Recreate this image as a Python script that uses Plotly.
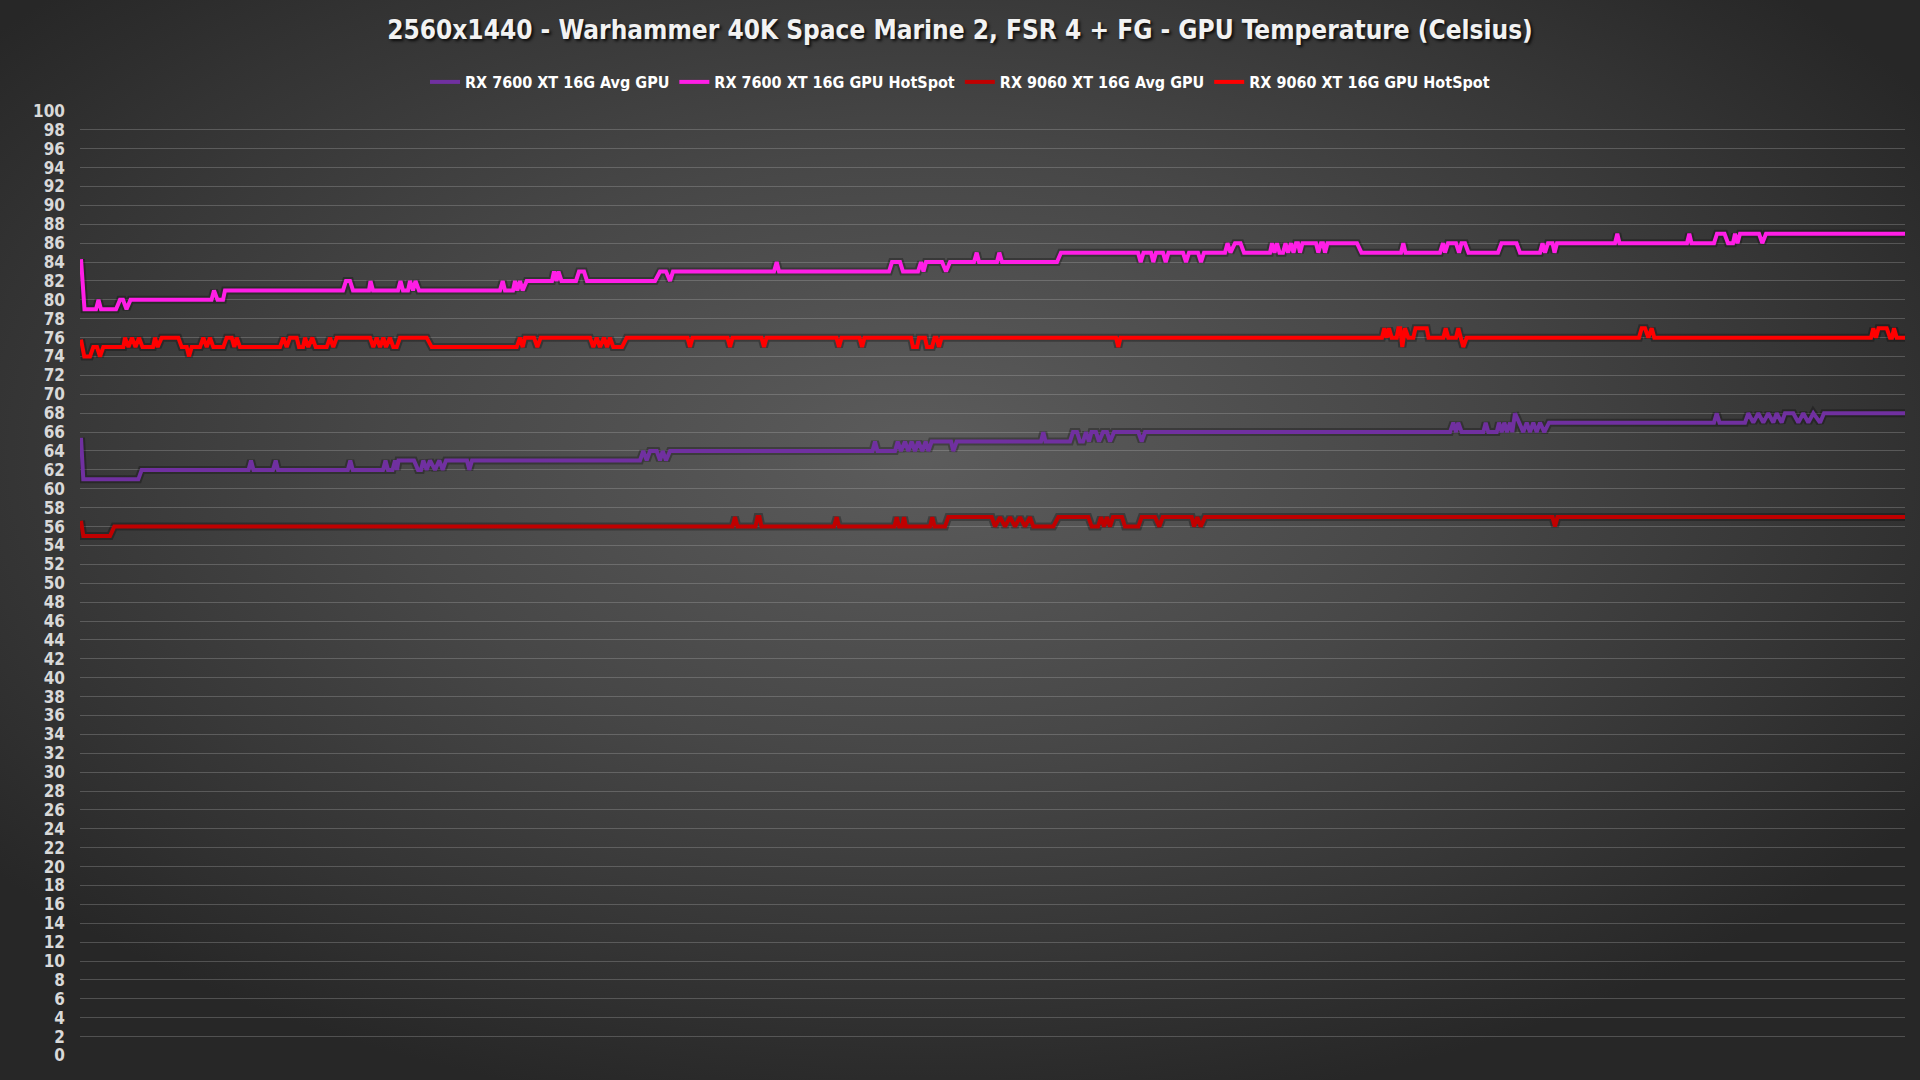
import base64
import plotly.graph_objects as go

# ---------------- data (sample index, temperature °C) ----------------
series_names = [
    "RX 7600 XT 16G Avg GPU",
    "RX 7600 XT 16G GPU HotSpot",
    "RX 9060 XT 16G Avg GPU",
    "RX 9060 XT 16G GPU HotSpot",
]
series_colors = ["#7030A0", "#FF1EE6", "#C00000", "#FF0000"]

# RX 7600 XT Avg GPU
p_t = [1, 3.3, 58.3, 61.7, 168.5, 171, 173.5, 193, 195.7, 198, 267.8, 270.3, 272.8,
       303, 305.5, 308, 312.5, 315, 317, 318.5, 334, 338, 341, 343.3, 346.7, 350, 355,
       359.3, 362.7, 366, 387, 389.3, 392,
       560, 563.3, 566.7, 570, 576.7, 580, 582.7, 586, 590,
       792.5, 795, 797.5, 815, 817.7, 821, 825, 828.3, 831.7, 835, 838.3, 842.3, 845.7,
       848.3, 851.7, 871, 873.3, 876.7,
       961, 963.3, 965.5, 990, 993, 997, 1000, 1003, 1006, 1009, 1011.5, 1016, 1019,
       1023, 1027, 1030, 1034, 1058.3, 1061.7, 1065,
       1370, 1373.3, 1376, 1378.3, 1381.7, 1403.3, 1405.7, 1408.3, 1416.7, 1419, 1421.7,
       1424.3, 1427, 1430, 1432.3, 1435, 1443.3, 1446.7, 1450, 1453.3, 1456.7, 1460,
       1464.3, 1469,
       1634, 1636.7, 1639.5, 1665, 1668.3, 1673.3, 1678.3, 1683.3, 1688.3, 1693.3,
       1696.7, 1701.7, 1705, 1713.3, 1718.3, 1723.3, 1728.3, 1733.3, 1740, 1744, 1825]
p_v = [65.4, 61, 61, 62, 62, 63, 62, 62, 63, 62, 62, 63, 62,
       62, 63, 62, 62, 63, 62, 63, 63, 62, 62, 63, 62, 63, 62,
       63, 62, 63, 63, 62, 63,
       63, 64, 63, 64, 64, 63, 64, 63, 64,
       64, 65, 64, 64, 65, 64, 65, 64, 65, 64, 65, 64, 65,
       64, 65, 65, 64, 65,
       65, 66, 65, 65, 66, 66, 65, 65, 66, 65, 66, 66, 65,
       66, 66, 65, 66, 66, 65, 66,
       66, 67, 66, 67, 66, 66, 67, 66, 66, 67, 66,
       67, 66, 67, 66, 68, 66, 67, 66, 67, 66, 67,
       66, 67,
       67, 68, 67, 67, 68, 67, 68, 67, 68, 67,
       68, 67, 68, 68, 67, 68, 67, 68, 67, 68, 68]

# RX 7600 XT GPU HotSpot
m_t = [1, 4.5, 16, 18.5, 21, 36, 40, 43, 46.5, 50.5, 131.5, 134, 137.5, 143, 145,
       263, 266, 270, 273, 289, 290.5, 293,
       318, 320.5, 323, 328, 330, 333, 335.5, 339,
       420, 422.7, 425, 433, 435, 437.3, 440, 442.7, 446.7,
       472, 474, 476.5, 478.5, 481.5, 496, 499, 504, 507,
       575, 580, 586, 590, 593,
       694, 696.7, 699, 809, 812, 820, 823, 838, 841, 843.5, 846, 862, 866, 870,
       894, 896.7, 899, 917, 919.3, 922, 977, 981,
       1058, 1060.7, 1063.5, 1071, 1073.3, 1076, 1083, 1085.7, 1088.5, 1103, 1106, 1109,
       1118, 1121, 1124,
       1145, 1147.5, 1150.5, 1155, 1160.5, 1164,
       1190, 1192, 1194.5, 1197, 1199.5, 1203, 1205.5, 1208, 1211, 1213.5, 1216,
       1218, 1220, 1222.5, 1236, 1238.3, 1241, 1243, 1245, 1247.5,
       1277, 1281.5, 1321, 1323.3, 1325.5,
       1360, 1363, 1365, 1368, 1376, 1379, 1381.5, 1385, 1388.5,
       1418, 1421.5, 1436.5, 1440,
       1460, 1462.5, 1465, 1468, 1472.5, 1474.5, 1477,
       1535, 1537.3, 1539.5, 1607, 1609.3, 1611.5,
       1634, 1637, 1644.5, 1648, 1653, 1655, 1657.5, 1660, 1679, 1682.3, 1686, 1825]
m_v = [84.3, 79, 79, 80, 79, 79, 80, 80, 79, 80, 80, 81, 80, 80, 81,
       81, 82, 82, 81, 81, 82, 81,
       81, 82, 81, 81, 82, 81, 82, 81,
       81, 82, 81, 81, 82, 81, 82, 81, 82,
       82, 83, 82, 83, 82, 82, 83, 83, 82,
       82, 83, 83, 82, 83,
       83, 84, 83, 83, 84, 84, 83, 83, 84, 83, 84, 84, 83, 84,
       84, 85, 84, 84, 85, 84, 84, 85,
       85, 84, 85, 85, 84, 85, 85, 84, 85, 85, 84, 85,
       85, 84, 85,
       85, 86, 85, 86, 86, 85,
       85, 86, 85, 86, 85, 85, 86, 85, 86, 85, 86,
       86, 85, 86, 86, 85, 86, 86, 85, 86,
       86, 85, 85, 86, 85,
       85, 86, 85, 86, 86, 85, 86, 86, 85,
       85, 86, 86, 85,
       85, 86, 85, 86, 86, 85, 86,
       86, 87, 86, 86, 87, 86,
       86, 87, 87, 86, 86, 87, 86, 87, 87, 86, 87, 87]

# RX 9060 XT Avg GPU
d_t = [1, 3.3, 30, 34.3,
       652.5, 655, 657.5, 675.5, 677.5, 679.5, 681.5, 754, 756.7, 759,
       814.5, 816.7, 819, 822, 824, 826, 850, 852.3, 854.5, 865, 868.3, 911.7,
       915, 920, 925, 930, 935, 940, 945, 950, 953.3, 973.3, 978.3,
       1008.3, 1011.7, 1018, 1021, 1024, 1027, 1030, 1033, 1042, 1045, 1051, 1053.3,
       1058.3, 1061.7, 1075, 1079.3, 1082.7, 1111.7, 1114, 1117.3, 1120.7, 1125,
       1472.5, 1475, 1477.5, 1825]
d_v = [56.6, 55, 55, 56,
       56, 57, 56, 56, 57, 57, 56, 56, 57, 56,
       56, 57, 56, 56, 57, 56, 56, 57, 56, 56, 57, 57,
       56, 57, 56, 57, 56, 57, 56, 57, 56, 56, 57,
       57, 56, 56, 57, 56, 57, 56, 57, 57, 56, 56, 56,
       56, 57, 57, 56, 57, 57, 56, 57, 56, 57,
       57, 56, 57, 57]

# RX 9060 XT GPU HotSpot
r_t = [1, 4.3, 10, 13.3, 17, 20, 23.3, 43.3, 45, 48.5, 52, 55.5, 59, 62.5, 73, 75,
       77.7, 81.7, 98.3, 101.7, 106.7, 109, 111.7, 120, 123.3, 126.7, 130, 133.3,
       143.3, 146.7, 151.7, 154.3, 156.7, 160, 200, 203.3, 206.7, 210, 216.7, 219,
       223, 225, 228.3, 232.3, 235.7, 246.7, 250, 253.3, 256.7, 290, 293.3, 296.7, 300,
       303.3, 306, 310, 313.3, 316.7, 320, 346.7, 351.7,
       436.7, 440, 442.7, 445, 454, 457.3, 460.7,
       510, 513.3, 516.7, 520, 524, 527, 530, 533.3, 542, 546.7,
       607.5, 610, 612.5, 647.5, 650, 652.5, 681.5, 684, 686.5, 756.5, 759, 761.5,
       779.5, 782, 784.5, 831, 833, 837, 839, 845, 847, 852, 854.5, 856.5, 859, 861.5,
       1036, 1038.3, 1040.5,
       1302, 1304.3, 1306.7, 1309, 1311.7, 1316.7, 1318.3, 1320.3, 1322.3, 1325,
       1328.3, 1333.3, 1335.5, 1346.7, 1348.5, 1363.3, 1365.7, 1368.3, 1376, 1378.3,
       1380.5, 1383.3, 1386.7,
       1559, 1561.7, 1565, 1568.3, 1571.7, 1574.3, 1791, 1793.3, 1796, 1798.5, 1806.7,
       1810, 1812, 1814, 1816.7, 1825]
r_v = [75.8, 74, 74, 75, 75, 74, 75, 75, 76, 75, 76, 75, 76, 75, 75, 76,
       75, 76, 76, 75, 75, 74, 75, 75, 76, 75, 76, 75,
       75, 76, 76, 75, 76, 75, 75, 76, 75, 76, 76, 75,
       75, 76, 75, 76, 75, 75, 76, 75, 76, 76, 75, 76, 75,
       76, 75, 76, 75, 75, 76, 76, 75,
       75, 76, 75, 76, 76, 75, 76,
       76, 75, 76, 75, 76, 75, 76, 75, 75, 76,
       76, 75, 76, 76, 75, 76, 76, 75, 76, 76, 75, 76,
       76, 75, 76, 76, 75, 75, 76, 76, 75, 75, 76, 76, 75, 76,
       76, 75, 76,
       76, 77, 76, 77, 76, 76, 77, 77, 75, 77,
       76, 76, 77, 77, 76, 76, 77, 76, 76, 77,
       76, 75, 76,
       76, 77, 77, 76, 77, 76, 76, 77, 76, 77, 77,
       76, 76, 77, 76, 76]

y_ticks = list(range(0, 101, 2))
title_text = "2560x1440 - Warhammer 40K Space Marine 2, FSR 4 + FG - GPU Temperature (Celsius)"

# ---------------- figure ----------------
W, H = 1920, 1080
ML, MR, MT, MB = 80, 15, 110, 24
PW, PH = W - ML - MR, H - MT - MB

svg = f'''<svg xmlns="http://www.w3.org/2000/svg" width="{W}" height="{H}" viewBox="0 0 {W} {H}" preserveAspectRatio="none">
<defs><radialGradient id="g" cx="0.48" cy="0.42" r="0.62">
<stop offset="0" stop-color="#5c5c5c"/>
<stop offset="0.45" stop-color="#474747"/>
<stop offset="0.8" stop-color="#333333"/>
<stop offset="1" stop-color="#272727"/>
</radialGradient></defs>
<rect x="0" y="0" width="{W}" height="{H}" fill="url(#g)"/></svg>'''
bg_uri = "data:image/svg+xml;base64," + base64.b64encode(svg.encode()).decode()

FONT = "DejaVu Sans Condensed, Liberation Sans Narrow, Arial Narrow, sans-serif"

fig = go.Figure()
data = [(p_t, p_v), (m_t, m_v), (d_t, d_v), (r_t, r_v)]
for (t, v) in data:
    fig.add_trace(go.Scatter(x=t, y=v, mode="lines", showlegend=False, hoverinfo="skip",
                             line=dict(color="rgba(0,0,0,0.28)", width=8)))
for (t, v), name, col in zip(data, series_names, series_colors):
    fig.add_trace(go.Scatter(x=t, y=v, mode="lines", name=name,
                             line=dict(color=col, width=4)))

fig.update_layout(
    width=W, height=H,
    margin=dict(l=ML, r=MR, t=MT, b=MB, pad=0),
    paper_bgcolor="#2c2c2c",
    plot_bgcolor="rgba(0,0,0,0)",
    images=[dict(source=bg_uri, xref="paper", yref="paper",
                 x=-ML / PW, y=1 + MT / PH, sizex=W / PW, sizey=H / PH,
                 xanchor="left", yanchor="top", sizing="stretch", layer="below")],
    title=dict(text=title_text, x=0.5, xanchor="center", y=1 - 30 / H, yanchor="middle",
               font=dict(family=FONT, size=26, color="#f2f2f2", weight="bold",
                         shadow="2px 2px 3px rgba(0,0,0,0.8)")),
    legend=dict(orientation="h", x=(W / 2 - ML) / PW, xanchor="center",
                y=(H - MB - 82) / PH, yanchor="middle", bgcolor="rgba(0,0,0,0)",
                font=dict(family=FONT, size=16, color="#ffffff", weight="bold"),
                itemwidth=30, tracegroupgap=0),
    xaxis=dict(range=[0, 1825], showgrid=False, zeroline=False, showticklabels=False,
               ticks="", showline=False),
    yaxis=dict(range=[-0.05, 100.1], tickmode="array", tickvals=y_ticks,
               ticktext=[str(v) for v in y_ticks], showgrid=True,
               gridcolor="rgba(190,190,190,0.28)", gridwidth=1, zeroline=False,
               showline=False, ticks="", ticklabelstandoff=14,
               tickfont=dict(family=FONT, size=17, color="#d9d9d9", weight="bold")),
    hovermode=False,
)

fig.write_html("out.html", include_plotlyjs=True, config={"displayModeBar": False},
               post_script="document.body.style.margin='0';document.body.style.overflow='hidden';")
